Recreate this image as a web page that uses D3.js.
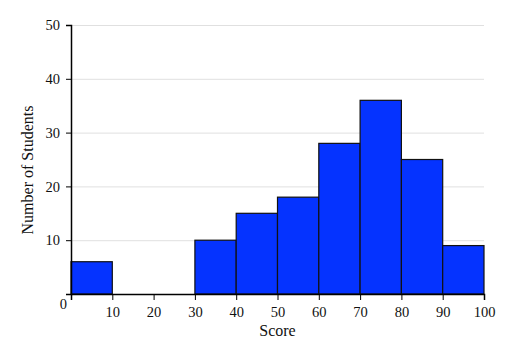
<!DOCTYPE html>
<html>
<head>
<meta charset="utf-8">
<script src="https://cdn.jsdelivr.net/npm/d3@7"></script>
<style>
  body { margin: 0; background: #fff; }
  svg text { font-family: "Liberation Serif", "DejaVu Serif", serif; fill: #111; }
</style>
</head>
<body>
<div id="chart"></div>
<script>
  // data
  binStarts = [0, 10, 20, 30, 40, 50, 60, 70, 80, 90]
  binWidth = 10
  counts = [6, 0, 0, 10, 15, 18, 28, 36, 25, 9]
  xTicks = [10, 20, 30, 40, 50, 60, 70, 80, 90, 100]
  yTicks = [10, 20, 30, 40, 50]

  canvas = ({width: 516, height: 358})
  margin = ({top: 25, right: 32, bottom: 64, left: 71})

  x = d3.scaleLinear()
      .domain([0, 100])
      .range([margin.left, canvas.width - margin.right])

  y = d3.scaleLinear()
      .domain([0, 50])
      .range([canvas.height - margin.bottom, margin.top])

  var svg = d3.select("#chart").append("svg")
      .attr("width", canvas.width)
      .attr("height", canvas.height)

  // grid
  svg.append("g")
      .selectAll("line")
      .data(yTicks)
      .join("line")
      .attr("x1", x(0)).attr("x2", x(100))
      .attr("y1", d => y(d) + 0.5).attr("y2", d => y(d) + 0.5)
      .attr("stroke", "#e0e0e0")
      .attr("stroke-width", 1)

  // bars
  bins = binStarts.map((d, i) => ({x0: d, x1: d + binWidth, n: counts[i]}))

  svg.append("g")
      .selectAll("rect")
      .data(bins.filter(d => d.n > 0))
      .join("rect")
      .attr("x", d => x(d.x0))
      .attr("width", d => x(d.x1) - x(d.x0))
      .attr("y", d => y(d.n))
      .attr("height", d => y(0) - y(d.n))
      .attr("fill", "#0533ff")
      .attr("stroke", "#111")
      .attr("stroke-width", 1.2)

  // axes
  xAxis = svg.append("g")
      .attr("transform", `translate(0,${y(0)})`)
      .call(d3.axisBottom(x).tickValues([0].concat(xTicks)).tickFormat(d => d === 0 ? "" : d).tickSizeOuter(0).tickSize(6))
  xAxis.select(".domain").attr("stroke-width", 1.5)
  xAxis.selectAll("text").style("font-size", "14.5px").attr("dy", "0.95em")

  yAxis = svg.append("g")
      .attr("transform", `translate(${x(0)},0)`)
      .call(d3.axisLeft(y).tickValues([0].concat(yTicks)).tickFormat(d => d === 0 ? "" : d).tickSizeOuter(0).tickSize(5))
  yAxis.select(".domain").attr("stroke-width", 1.5)
  yAxis.selectAll("text").style("font-size", "14.5px").attr("dx", "-0.2em")

  // corner zero
  svg.append("text")
      .attr("x", x(0) - 4)
      .attr("y", y(0) + 15)
      .attr("text-anchor", "end")
      .style("font-size", "14.5px")
      .text("0")

  // titles
  svg.append("text")
      .attr("x", (x(0) + x(100)) / 2)
      .attr("y", 336)
      .attr("text-anchor", "middle")
      .style("font-size", "16px")
      .text("Score")

  svg.append("text")
      .attr("transform", `translate(33,170) rotate(-90)`)
      .attr("text-anchor", "middle")
      .style("font-size", "16px")
      .text("Number of Students")
</script>
</body>
</html>
